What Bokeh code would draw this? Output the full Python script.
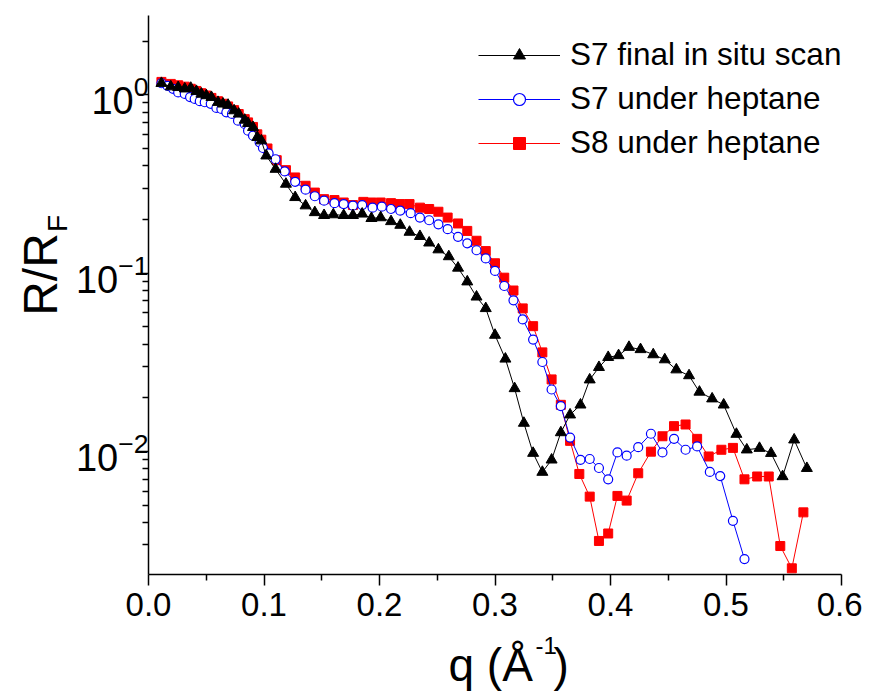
from bokeh.plotting import figure
from bokeh.models import Range1d, FixedTicker, Label, Legend, LegendItem, PrintfTickFormatter
from bokeh.layouts import row, column
from bokeh.embed import file_html
from bokeh.resources import INLINE

# ---------------- data ----------------
q_s7_insitu = [0.0112, 0.0193, 0.0257, 0.0314, 0.0366, 0.0415, 0.0458, 0.0501, 0.0545, 0.0602,
               0.0645, 0.0689, 0.0741, 0.0781, 0.0833, 0.0862, 0.0905, 0.0942, 0.0977, 0.102,
               0.110, 0.119, 0.127, 0.136, 0.144, 0.152, 0.160, 0.169, 0.177, 0.185,
               0.193, 0.201, 0.210, 0.218, 0.226, 0.235, 0.243, 0.251, 0.260, 0.268,
               0.276, 0.284, 0.292, 0.300, 0.309, 0.317, 0.325, 0.333, 0.341, 0.349,
               0.357, 0.365, 0.374, 0.382, 0.390, 0.398, 0.407, 0.416, 0.426, 0.437,
               0.447, 0.457, 0.468, 0.477, 0.488, 0.498, 0.509, 0.518, 0.529, 0.539,
               0.549, 0.559, 0.570]
r_s7_insitu = [1.16, 1.11, 1.10, 1.08, 1.09, 1.046, 1.01, 0.99, 0.968, 0.908,
               0.889, 0.875, 0.815, 0.781, 0.722, 0.692, 0.657, 0.577, 0.553, 0.455,
               0.383, 0.316, 0.266, 0.239, 0.219, 0.211, 0.213, 0.211, 0.211, 0.215,
               0.203, 0.205, 0.195, 0.186, 0.170, 0.161, 0.148, 0.1355, 0.124, 0.107,
               0.0896, 0.0737, 0.0635, 0.045, 0.0331, 0.0226, 0.01446, 0.00981, 0.00768, 0.0090,
               0.0128, 0.0161, 0.0183, 0.0253, 0.0297, 0.0338, 0.0346, 0.0385, 0.0374, 0.035,
               0.0328, 0.0288, 0.0267, 0.0216, 0.0198, 0.0183, 0.01254, 0.01025, 0.01046, 0.0098,
               0.00726, 0.01166, 0.00807]

q_s7_heptane = [0.0112, 0.0165, 0.0213, 0.0257, 0.0314, 0.036, 0.040, 0.0444, 0.0487, 0.0539,
                0.0588, 0.0631, 0.0674, 0.0723, 0.0775, 0.0833, 0.0862, 0.0905, 0.0962, 0.0991,
                0.104, 0.110, 0.118, 0.127, 0.136, 0.144, 0.152, 0.161, 0.169, 0.177,
                0.185, 0.194, 0.202, 0.210, 0.218, 0.227, 0.235, 0.243, 0.251, 0.259,
                0.268, 0.276, 0.284, 0.292, 0.300, 0.308, 0.316, 0.324, 0.333, 0.341,
                0.349, 0.357, 0.365, 0.374, 0.382, 0.390, 0.398, 0.406, 0.414, 0.424,
                0.435, 0.445, 0.455, 0.465, 0.475, 0.486, 0.495, 0.506, 0.516]
r_s7_heptane = [1.16, 1.12, 1.08, 1.03, 1.01, 0.97, 0.948, 0.92, 0.908, 0.889,
                0.844, 0.833, 0.797, 0.781, 0.716, 0.686, 0.629, 0.59, 0.541, 0.503,
                0.469, 0.435, 0.372, 0.325, 0.294, 0.270, 0.255, 0.247, 0.244, 0.239,
                0.241, 0.233, 0.236, 0.229, 0.224, 0.217, 0.205, 0.198, 0.188, 0.1765,
                0.160, 0.147, 0.1345, 0.121, 0.103, 0.0848, 0.0705, 0.0551, 0.0425, 0.0318,
                0.0223, 0.018, 0.012, 0.009, 0.0091, 0.0081, 0.0070, 0.0099, 0.0095, 0.0106,
                0.0126, 0.0099, 0.0118, 0.01025, 0.0107, 0.0077, 0.0073, 0.0041, 0.0025]

q_s8_heptane = [0.0112, 0.0193, 0.0257, 0.0314, 0.0366, 0.0415, 0.0458, 0.0501, 0.0545, 0.0602,
                0.0645, 0.0689, 0.0741, 0.0781, 0.0833, 0.0862, 0.0905, 0.0942, 0.0977, 0.103,
                0.111, 0.119, 0.127, 0.136, 0.144, 0.152, 0.161, 0.169, 0.177, 0.186,
                0.193, 0.201, 0.210, 0.218, 0.226, 0.235, 0.243, 0.251, 0.259, 0.268,
                0.276, 0.284, 0.292, 0.300, 0.308, 0.316, 0.324, 0.333, 0.341, 0.349,
                0.357, 0.365, 0.373, 0.382, 0.390, 0.398, 0.406, 0.414, 0.424, 0.435,
                0.445, 0.455, 0.465, 0.475, 0.485, 0.496, 0.506, 0.516, 0.527, 0.537,
                0.547, 0.557, 0.567]
r_s8_heptane = [1.18, 1.15, 1.13, 1.11, 1.08, 1.05, 1.02, 0.99, 0.96, 0.92,
                0.89, 0.86, 0.82, 0.78, 0.73, 0.70, 0.66, 0.60, 0.56, 0.50,
                0.43, 0.378, 0.344, 0.309, 0.283, 0.260, 0.257, 0.249, 0.241, 0.251,
                0.249, 0.249, 0.247, 0.244, 0.244, 0.233, 0.229, 0.221, 0.205, 0.190,
                0.1726, 0.152, 0.133, 0.1137, 0.0944, 0.080, 0.0635, 0.0505, 0.036, 0.0254,
                0.0183, 0.0115, 0.0075, 0.0056, 0.00316, 0.00348, 0.00565, 0.00532, 0.00757, 0.0100,
                0.0122, 0.0139, 0.0142, 0.0118, 0.0094, 0.01025, 0.0105, 0.0070, 0.00726, 0.00726,
                0.00296, 0.00222, 0.00457]

series_labels = ["S7 final in situ scan", "S7 under heptane", "S8 under heptane"]
x_major_ticks = [0.0, 0.1, 0.2, 0.3, 0.4, 0.5, 0.6]
x_minor_ticks = [0.05, 0.15, 0.25, 0.35, 0.45, 0.55]
y_major_ticks = [0.01, 0.1, 1.0]
y_minor_ticks = [0.003, 0.004, 0.005, 0.006, 0.007, 0.008, 0.009,
                 0.02, 0.03, 0.04, 0.05, 0.06, 0.07, 0.08, 0.09,
                 0.2, 0.3, 0.4, 0.5, 0.6, 0.7, 0.8, 0.9, 2.0]
x_title_main = "q (Å"
x_title_sup = "-1"
x_title_end = ")"
y_title_main = "R/R"
y_title_sub = "F"

FONT = "Liberation Sans"
LEFT_W = 72          # strip holding the y title
MAIN_W = 790
MAIN_H = 630
BOTTOM_H = 62        # strip holding the x title
TOTAL_H = MAIN_H + BOTTOM_H
FRAME_LEFT = 147     # page x of the plot frame's left edge


def text_strip(width, height):
    f = figure(width=width, height=height, x_range=Range1d(0, 1), y_range=Range1d(0, 1),
               x_axis_location=None, y_axis_location=None, output_backend="svg",
               toolbar_location=None, min_border_left=0, min_border_right=0,
               min_border_top=0, min_border_bottom=0)
    f.outline_line_color = None
    f.grid.visible = False
    f.background_fill_color = "white"
    f.border_fill_color = "white"
    return f


# ---------------- main plot ----------------
p = figure(width=MAIN_W, height=MAIN_H, y_axis_type="log",
           x_range=Range1d(0.0, 0.6), y_range=Range1d(0.00205, 2.78),
           output_backend="svg", toolbar_location=None,
           min_border_left=FRAME_LEFT - LEFT_W, min_border_right=LEFT_W + MAIN_W - 841,
           min_border_top=15, min_border_bottom=MAIN_H - 574)
p.outline_line_color = None
p.grid.visible = False
p.background_fill_color = "white"
p.border_fill_color = "white"

for ax in (p.xaxis[0], p.yaxis[0]):
    ax.axis_line_width = 1.5
    ax.axis_line_color = "black"
    ax.major_tick_line_width = 1.5
    ax.minor_tick_line_width = 1.5
    ax.major_tick_line_color = "black"
    ax.minor_tick_line_color = "black"
    ax.major_tick_in = 0
    ax.major_tick_out = 11
    ax.minor_tick_in = 0
    ax.minor_tick_out = 6
    ax.major_label_text_font = FONT
    ax.major_label_text_color = "black"
    ax.axis_label = None

p.xaxis.major_label_text_font_size = "33px"
p.yaxis.major_label_text_font_size = "38px"
p.xaxis.ticker = FixedTicker(ticks=x_major_ticks, minor_ticks=x_minor_ticks)
p.xaxis.formatter = PrintfTickFormatter(format="%.1f")
p.xaxis.major_label_standoff = 7
p.yaxis.ticker = FixedTicker(ticks=y_major_ticks, minor_ticks=y_minor_ticks)
p.yaxis.major_label_standoff = -11

# data: red first, blue next, black on top
r_line = p.line(q_s8_heptane, r_s8_heptane, line_color="#ff0000", line_width=1)
r_pts = p.scatter(q_s8_heptane, r_s8_heptane, marker="square", size=9,
                  fill_color="#ff0000", line_color="#ff0000")
b_line = p.line(q_s7_heptane, r_s7_heptane, line_color="#0000ff", line_width=1)
b_pts = p.scatter(q_s7_heptane, r_s7_heptane, marker="circle", size=9,
                  fill_color="white", line_color="#0000ff", line_width=1.2)
k_line = p.line(q_s7_insitu, r_s7_insitu, line_color="black", line_width=1)
k_pts = p.scatter(q_s7_insitu, r_s7_insitu, marker="triangle", size=11,
                  fill_color="black", line_color="black")

legend = Legend(items=[
    LegendItem(label=series_labels[0], renderers=[k_line, k_pts]),
    LegendItem(label=series_labels[1], renderers=[b_line, b_pts]),
    LegendItem(label=series_labels[2], renderers=[r_line, r_pts]),
], location=(330, 413), border_line_color=None, background_fill_alpha=0,
    label_text_font=FONT, label_text_font_size="31.5px", label_text_color="black",
    glyph_width=82, glyph_height=30, spacing=7, padding=0, margin=0, label_standoff=10)
p.add_layout(legend)

# ---------------- y title strip (left) ----------------
left = text_strip(LEFT_W, TOTAL_H)
left.add_layout(Label(x=40, y=TOTAL_H - 274, x_units="screen", y_units="screen",
                      text=y_title_main, text_font=FONT, text_font_size="48px",
                      text_align="center", text_baseline="middle", angle=90,
                      angle_units="deg", text_color="black"))
left.add_layout(Label(x=57, y=TOTAL_H - 223, x_units="screen", y_units="screen",
                      text=y_title_sub, text_font=FONT, text_font_size="28px",
                      text_align="center", text_baseline="middle", angle=90,
                      angle_units="deg", text_color="black"))

# ---------------- x title strip (bottom); its frame is aligned with the main frame ----------------
bottom = text_strip(MAIN_W, BOTTOM_H)
bottom.add_layout(Label(x=447 - FRAME_LEFT, y=28, x_units="screen", y_units="screen",
                        text=x_title_main, text_font=FONT, text_font_size="46px",
                        text_align="left", text_baseline="alphabetic", text_color="black"))
bottom.add_layout(Label(x=534 - FRAME_LEFT, y=47, x_units="screen", y_units="screen",
                        text=x_title_sup, text_font=FONT, text_font_size="24px",
                        text_align="left", text_baseline="alphabetic", text_color="black"))
bottom.add_layout(Label(x=552 - FRAME_LEFT, y=28, x_units="screen", y_units="screen",
                        text=x_title_end, text_font=FONT, text_font_size="46px",
                        text_align="left", text_baseline="alphabetic", text_color="black"))

layout = row(left, column(p, bottom, spacing=0), spacing=0)
open("out.html", "w").write(file_html(layout, INLINE))
